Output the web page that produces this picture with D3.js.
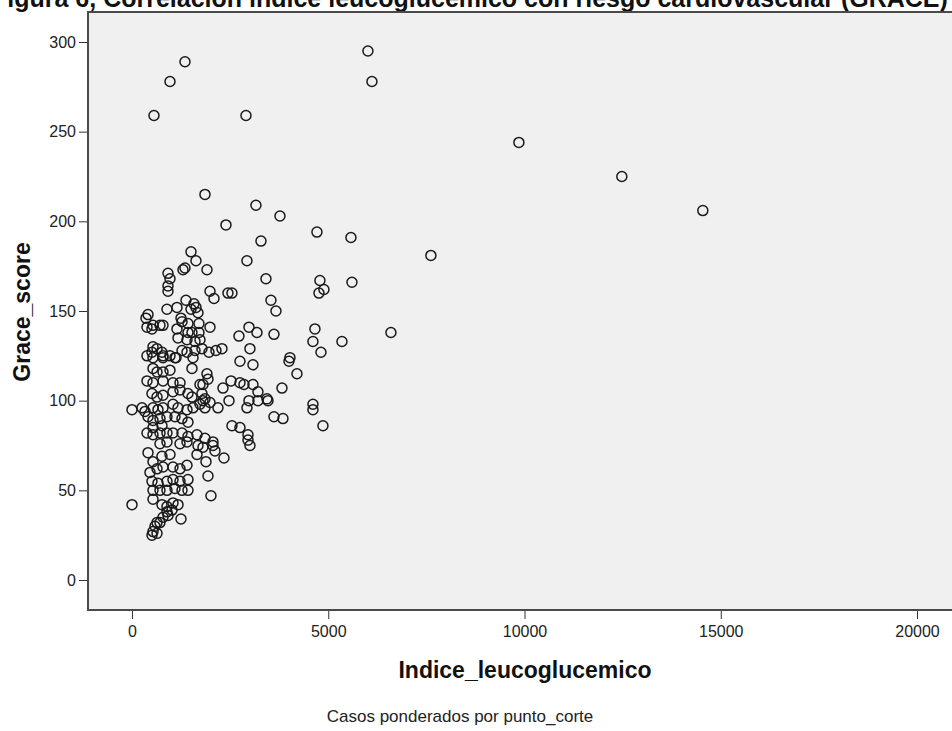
<!DOCTYPE html>
<html>
<head>
<meta charset="utf-8">
<script src="https://cdn.jsdelivr.net/npm/d3@7"></script>
<style>
  body { margin: 0; background: #fff; overflow: hidden; }
  svg { display: block; font-family: "Liberation Sans", Arial, sans-serif; }
</style>
</head>
<body>
<script>
// Indice_leucoglucemico (x) and Grace_score (y), one entry per case
const indice = [
  1350, 968, 560, 2904, 6011, 6113, 9857, 12480, 14543, 1859,
  3158, 3770, 2394, 4712, 3286, 5578, 7615, 2929, 1503, 1630,
  1350, 1910, 917, 968, 917, 917, 3413, 4788, 5604, 4890,
  4763, 2547, 1987, 2089, 3540, 3668, 6597, 5349, 4661, 4610,
  4814, 3617, 3184, 2980, 2725, 3005, 1987, 2751, 3082, 4024,
  3999, 4203, 1961, 2139, 2292, 1910, 1936, 1808, 2522, 2751,
  2853, 3082, 3821, 2318, 3209, 2980, 3209, 3438, 3464, 2471,
  2190, 2929, 4610, 4610, 1808, 1859, 3617, 3846, 4865, 2547,
  2751, 2955, 2955, 3005, 2343, 2063, 2114, 1808, 1656, 1885,
  1936, 2012, 1248, 0, 0,
  1299, 2445, 891, 1146, 1375, 1579, 1630, 1681, 1503, 408,
  357, 535, 713, 790, 382, 509, 1248, 1274, 1426, 1706,
  1146, 1426, 1528, 1706, 1172, 1401, 1605, 1732, 535, 637,
  382, 509, 764, 790, 1274, 1401, 1605, 1783, 968, 1095,
  535, 790, 1121, 1554, 1528, 535, 637, 790, 968, 382,
  535, 790, 1044, 1223, 1732, 509, 637, 790, 1044, 1223,
  1426, 1528, 1783, 1859, 1987, 255, 331, 535, 662, 790,
  1044, 1172, 1401, 1554, 1732, 408, 535, 713, 891, 1095,
  1274, 1426, 382, 535, 713, 891, 1044, 1274, 1426, 1656,
  1859, 2063, 535, 764, 408, 713, 891, 1223, 1401, 1681,
  535, 764, 968, 458, 637, 790, 1044, 1223, 1401, 509,
  662, 891, 1044, 1223, 1426, 535, 713, 891, 1095, 1274,
  1426, 535, 764, 891, 1044, 1172, 891, 1019, 790, 917,
  637, 586, 535, 713, 509, 637
];
const grace = [
  289, 278, 259, 259, 295, 278, 244, 225, 206, 215,
  209, 203, 198, 194, 189, 191, 181, 178, 183, 178,
  174, 173, 171, 168, 164, 161, 168, 167, 166, 162,
  160, 160, 161, 157, 156, 150, 138, 133, 140, 133,
  127, 137, 138, 141, 136, 129, 141, 122, 120, 124,
  122, 115, 127, 128, 129, 115, 112, 109, 111, 110,
  109, 109, 107, 107, 105, 100, 100, 101, 100, 100,
  96, 96, 98, 95, 100, 96, 91, 90, 86, 86,
  85, 81, 78, 75, 68, 75, 72, 74, 70, 66,
  58, 47, 34, 42, 95,
  173, 160, 151, 152, 156, 154, 152, 149, 151, 148,
  146, 142, 142, 142, 141, 140, 146, 144, 143, 143,
  140, 138, 138, 138, 135, 134, 133, 134, 130, 129,
  125, 127, 127, 125, 128, 127, 128, 129, 125, 124,
  124, 124, 124, 124, 118, 118, 116, 116, 117, 111,
  110, 111, 110, 110, 109, 104, 102, 103, 105, 106,
  104, 102, 104, 101, 99, 96, 94, 96, 95, 96,
  98, 96, 95, 96, 98, 91, 89, 90, 91, 91,
  90, 88, 82, 81, 82, 82, 82, 82, 80, 81,
  79, 77, 85, 86, 71, 76, 77, 76, 77, 75,
  66, 69, 70, 60, 62, 63, 63, 62, 64, 55,
  54, 55, 56, 55, 56, 50, 50, 50, 51, 50,
  50, 45, 42, 41, 43, 42, 38, 39, 35, 36,
  32, 30, 27, 32, 25, 26
];

const xTicks = [0, 5000, 10000, 15000, 20000];
const yTicks = [0, 50, 100, 150, 200, 250, 300];

const svg = d3.select("body")
  .append("svg")
  .attr("width", 952)
  .attr("height", 731);

const x = d3.scaleLinear().domain([0, 20000]).range([132, 917]);
const y = d3.scaleLinear().domain([0, 300]).range([580, 42]);

// Title (cut at the top in the original)
svg.append("text")
  .attr("x", -8)
  .attr("y", 7)
  .attr("font-size", 25)
  .attr("font-weight", "bold")
  .attr("fill", "#111")
  .text("Figura 6, Correlación índice leucoglucemico con riesgo cardiovascular (GRACE)");

// Plot frame
svg.append("rect")
  .attr("x", 88)
  .attr("y", 12)
  .attr("width", 900)
  .attr("height", 598)
  .attr("fill", "#f0f0f0")
  .attr("stroke", "#4a4a4a")
  .attr("stroke-width", 2);

// Axes
const xAxis = svg.append("g")
  .attr("transform", "translate(0,611)")
  .call(d3.axisBottom(x).tickValues(xTicks).tickSize(8).tickPadding(7).tickFormat(d3.format("d")));

const yAxis = svg.append("g")
  .attr("transform", "translate(87,0)")
  .call(d3.axisLeft(y).tickValues(yTicks).tickSize(8).tickPadding(3).tickFormat(d3.format("d")));

[xAxis, yAxis].forEach((g) => {
  g.select(".domain").remove();
  g.selectAll("line").attr("stroke", "#333");
  g.selectAll("text")
    .attr("font-size", 16)
    .attr("font-family", "Liberation Sans, Arial, sans-serif")
    .attr("fill", "#222");
});

// Points
svg.append("g")
  .selectAll("circle")
  .data(indice.map((v, i) => [v, grace[i]]))
  .join("circle")
  .attr("cx", (d) => x(d[0]))
  .attr("cy", (d) => y(d[1]))
  .attr("r", 5)
  .attr("fill", "none")
  .attr("stroke", "#1a1a1a")
  .attr("stroke-width", 1.5);

// Axis titles
svg.append("text")
  .attr("x", 525)
  .attr("y", 678)
  .attr("text-anchor", "middle")
  .attr("font-size", 23)
  .attr("font-weight", "bold")
  .attr("fill", "#111")
  .text("Indice_leucoglucemico");

svg.append("text")
  .attr("transform", "translate(30,312) rotate(-90)")
  .attr("text-anchor", "middle")
  .attr("font-size", 23)
  .attr("font-weight", "bold")
  .attr("fill", "#111")
  .text("Grace_score");

// Footnote
svg.append("text")
  .attr("x", 460)
  .attr("y", 722)
  .attr("text-anchor", "middle")
  .attr("font-size", 17)
  .attr("fill", "#222")
  .text("Casos ponderados por punto_corte");
</script>
</body>
</html>
